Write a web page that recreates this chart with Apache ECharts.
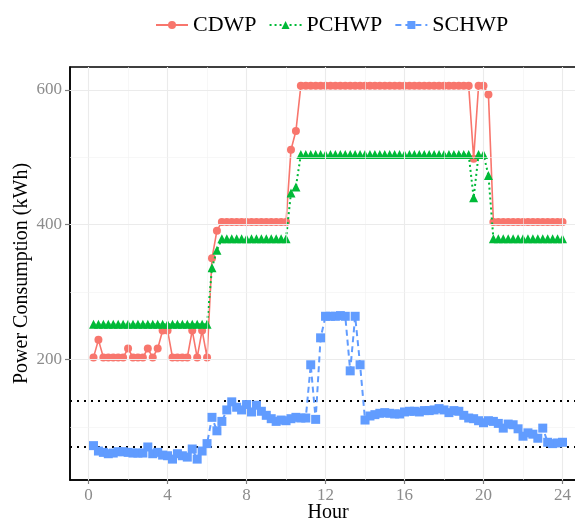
<!DOCTYPE html>
<html>
<head>
<meta charset="utf-8">
<script src="https://cdn.jsdelivr.net/npm/echarts@6/dist/echarts.min.js"></script>
<style>
  html, body { margin: 0; padding: 0; background: #fff; }
  #chart { width: 575px; height: 521px; }
</style>
</head>
<body>
<div id="chart"></div>
<script>
// 15-minute sampling over the day (0.25 h .. 24 h)
const hours = Array.from({ length: 96 }, (_, i) => (i + 1) * 0.25);

// Condenser water pump power, kWh
const cdwp = [
  203, 229, 203, 203, 203, 203, 203, 216, 203, 203, 203, 216,
  203, 216, 243, 243, 203, 203, 203, 203, 243, 203, 243, 203,
  350, 391,
  404, 404, 404, 404, 404, 404, 404, 404, 404, 404, 404, 404, 404, 404,
  511, 539,
  606, 606, 606, 606, 606, 606, 606, 606, 606, 606, 606, 606, 606, 606, 606, 606, 606,
  606, 606, 606, 606, 606, 606, 606, 606, 606, 606, 606, 606, 606, 606, 606, 606, 606, 606,
  498, 606, 606, 593,
  404, 404, 404, 404, 404, 404, 404, 404, 404, 404, 404, 404, 404, 404, 404, 404
];

// Primary chilled water pump power, kWh
const pchwp = [
  252, 252, 252, 252, 252, 252, 252, 252, 252, 252, 252, 252,
  252, 252, 252, 252, 252, 252, 252, 252, 252, 252, 252, 252,
  336, 362,
  379, 379, 379, 379, 379, 379, 379, 379, 379, 379, 379, 379, 379, 379,
  447, 456,
  504, 504, 504, 504, 504, 504, 504, 504, 504, 504, 504, 504, 504, 504, 504, 504, 504,
  504, 504, 504, 504, 504, 504, 504, 504, 504, 504, 504, 504, 504, 504, 504, 504, 504, 504,
  440, 504, 504, 473,
  379, 379, 379, 379, 379, 379, 379, 379, 379, 379, 379, 379, 379, 379, 379, 379
];

// Secondary chilled water pump power, kWh
const schwp = [
  72, 64, 62, 60, 61, 63, 63, 62, 61, 61, 61, 70,
  60, 62, 58, 57, 52, 60, 57, 55, 67, 52, 64, 75,
  114, 94, 108, 125, 137, 129, 125, 133, 122, 132, 123, 117,
  112, 108, 110, 109, 112, 114, 113, 113, 192, 111, 232, 264,
  264, 264, 265, 264, 183, 264, 192, 110,
  116, 118, 120, 121, 120, 119, 119, 122, 123, 123, 122, 124,
  124, 125, 127, 125, 121, 124, 123, 117, 113, 112, 109, 106,
  109, 108, 105, 98, 104, 103, 97, 86, 91, 89, 83, 98,
  77, 75, 76, 77
];

// Reference band for the secondary pump
const bandLines = [139, 71];

const xTicks = [0, 4, 8, 12, 16, 20, 24];
const xMinor = [2, 6, 10, 14, 18, 22];
const yTicks = [200, 400, 600];
const yMinor = [100, 300, 500];

const serif = '"Liberation Serif", "DejaVu Serif", serif';
const zip = ys => hours.map((h, i) => [h, ys[i]]);

const gridLine = (axis, v, w, c) => ({
  [axis]: v,
  lineStyle: { color: c, width: w, type: 'solid' },
  label: { show: false }
});

const gridMarks = [
  ...xTicks.map(v => gridLine('xAxis', v, 1.1, '#ebebeb')),
  ...xMinor.map(v => gridLine('xAxis', v, 0.6, '#f2f2f2')),
  ...yTicks.map(v => gridLine('yAxis', v, 1.1, '#ebebeb')),
  ...yMinor.map(v => gridLine('yAxis', v, 0.6, '#f2f2f2'))
];

const chart = echarts.init(document.getElementById('chart'), null, { renderer: 'canvas' });

chart.setOption({
  animation: false,
  backgroundColor: '#fff',
  legend: {
    top: 9,
    left: 150,
    itemWidth: 32,
    itemHeight: 10,
    itemGap: 12,
    textStyle: { fontFamily: serif, fontSize: 22, color: '#000' },
    data: ['CDWP', 'PCHWP', 'SCHWP']
  },
  grid: {
    left: 70, right: -11, top: 67, bottom: 41,
    containLabel: false,
    outerBoundsMode: 'none',
    show: true, borderColor: '#000', borderWidth: 1.5, backgroundColor: 'transparent'
  },
  xAxis: {
    type: 'value',
    min: -0.94, max: 25.19,
    name: 'Hour',
    nameLocation: 'middle',
    nameGap: 23,
    nameMoveOverlap: false,
    nameTextStyle: { fontFamily: serif, fontSize: 20, color: '#000' },
    axisLine: { show: true, onZero: false, lineStyle: { color: '#000', width: 1.5 } },
    axisTick: { show: true, customValues: xTicks, length: 4, lineStyle: { color: '#808080', width: 1.2 } },
    axisLabel: { customValues: xTicks, margin: 7, fontFamily: serif, fontSize: 17, color: '#8c8c8c' },
    splitLine: { show: false }
  },
  yAxis: {
    type: 'value',
    min: 21, max: 634,
    name: 'Power Consumption (kWh)',
    nameLocation: 'middle',
    nameGap: 38,
    nameMoveOverlap: false,
    nameTextStyle: { fontFamily: serif, fontSize: 20, color: '#000' },
    axisLine: { show: true, onZero: false, lineStyle: { color: '#000', width: 1.5 } },
    axisTick: { show: true, customValues: yTicks, length: 5, lineStyle: { color: '#808080', width: 1.2 } },
    axisLabel: { customValues: yTicks, margin: 8, fontFamily: serif, fontSize: 17, color: '#8c8c8c' },
    splitLine: { show: false }
  },
  series: [
    {
      name: 'grid',
      type: 'line',
      data: [],
      silent: true,
      z: 0,
      markLine: {
        silent: true,
        symbol: ['none', 'none'],
        animation: false,
        data: gridMarks
      }
    },
    {
      name: 'band',
      type: 'line',
      data: [],
      silent: true,
      z: 1,
      markLine: {
        silent: true,
        symbol: ['none', 'none'],
        animation: false,
        lineStyle: { color: '#000', width: 2, type: [2, 5] },
        label: { show: false },
        data: bandLines.map(v => ({ yAxis: v }))
      }
    },
    {
      name: 'CDWP',
      type: 'line',
      data: zip(cdwp),
      color: '#F8766D',
      symbol: 'circle',
      symbolSize: 8,
      showAllSymbol: true,
      lineStyle: { width: 1.6, type: 'solid' },
      itemStyle: { color: '#F8766D' },
      z: 3
    },
    {
      name: 'PCHWP',
      type: 'line',
      data: zip(pchwp),
      color: '#00BA38',
      symbol: 'triangle',
      symbolSize: 9,
      showAllSymbol: true,
      lineStyle: { width: 2, type: [2, 3] },
      itemStyle: { color: '#00BA38' },
      z: 4
    },
    {
      name: 'SCHWP',
      type: 'line',
      data: zip(schwp),
      color: '#619CFF',
      symbol: 'rect',
      symbolSize: 9,
      showAllSymbol: true,
      lineStyle: { width: 2, type: [6, 4] },
      itemStyle: { color: '#619CFF' },
      z: 5
    }
  ]
});
</script>
</body>
</html>
